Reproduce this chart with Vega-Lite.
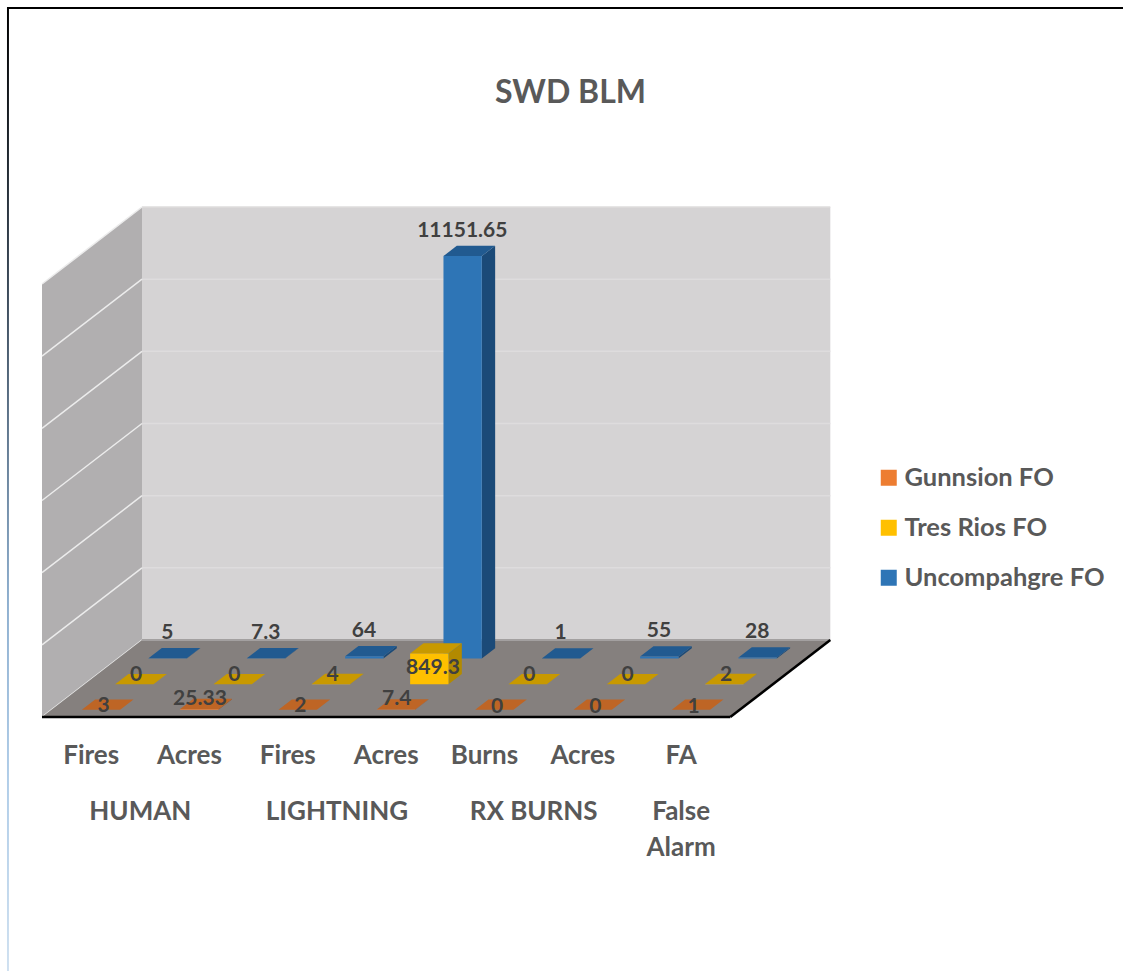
{
"$schema":"https://vega.github.io/schema/vega-lite/v6.json",
"width":1123,"height":971,"padding":0,"autosize":{"type":"none"},"background":"white",
"title":{"text":"SWD BLM","anchor":"middle","dx":9,"dy":114,"font":"Lato","fontSize":32,"fontWeight":"bold","color":"#595959"},
"config":{"axis":{"disable":true},"view":{"stroke":null},"text":{"font":"Lato","fontWeight":"bold"}},
"datasets":{"planes":[{"depth":0},{"depth":3}],"grid":[{"v":0},{"v":2000},{"v":4000},{"v":6000},{"v":8000},{"v":10000},{"v":12000}],"one":[{"frame":1}]},
"data":{"values":[
{"group":"HUMAN","measure":"Fires","series":"Uncompahgre FO","value":5},
{"group":"HUMAN","measure":"Acres","series":"Uncompahgre FO","value":7.3},
{"group":"LIGHTNING","measure":"Fires","series":"Uncompahgre FO","value":64},
{"group":"LIGHTNING","measure":"Acres","series":"Uncompahgre FO","value":11151.65},
{"group":"RX BURNS","measure":"Burns","series":"Uncompahgre FO","value":1},
{"group":"RX BURNS","measure":"Acres","series":"Uncompahgre FO","value":55},
{"group":"False Alarm","measure":"FA","series":"Uncompahgre FO","value":28},
{"group":"HUMAN","measure":"Fires","series":"Tres Rios FO","value":0},
{"group":"HUMAN","measure":"Acres","series":"Tres Rios FO","value":0},
{"group":"LIGHTNING","measure":"Fires","series":"Tres Rios FO","value":4},
{"group":"LIGHTNING","measure":"Acres","series":"Tres Rios FO","value":849.3},
{"group":"RX BURNS","measure":"Burns","series":"Tres Rios FO","value":0},
{"group":"RX BURNS","measure":"Acres","series":"Tres Rios FO","value":0},
{"group":"False Alarm","measure":"FA","series":"Tres Rios FO","value":2},
{"group":"HUMAN","measure":"Fires","series":"Gunnsion FO","value":3},
{"group":"HUMAN","measure":"Acres","series":"Gunnsion FO","value":25.33},
{"group":"LIGHTNING","measure":"Fires","series":"Gunnsion FO","value":2},
{"group":"LIGHTNING","measure":"Acres","series":"Gunnsion FO","value":7.4},
{"group":"RX BURNS","measure":"Burns","series":"Gunnsion FO","value":0},
{"group":"RX BURNS","measure":"Acres","series":"Gunnsion FO","value":0},
{"group":"False Alarm","measure":"FA","series":"Gunnsion FO","value":1}
]},
"transform":[
{"calculate":"indexof(['HUMAN|Fires','HUMAN|Acres','LIGHTNING|Fires','LIGHTNING|Acres','RX BURNS|Burns','RX BURNS|Acres','False Alarm|FA'],datum.group+'|'+datum.measure)","as":"i"},
{"calculate":"indexof(['Gunnsion FO','Tres Rios FO','Uncompahgre FO'],datum.series)","as":"s"},
{"calculate":"datum.s+0.28","as":"d"},
{"calculate":"datum.i+0.31+datum.d*0.339","as":"xl"},
{"calculate":"datum.xl+0.39","as":"xr"},
{"calculate":"datum.d*711","as":"yb"},
{"calculate":"datum.value+datum.yb","as":"yt"},
{"calculate":"[0,1]","as":"t"},
{"flatten":["t"]},
{"calculate":"datum.xr+datum.t*0.1356","as":"sx"},
{"calculate":"datum.xl+datum.t*0.1356","as":"tx"},
{"calculate":"datum.yt+datum.t*284.4","as":"sy"},
{"calculate":"datum.yb+datum.t*284.4","as":"sy2"},
{"calculate":"datum.xl+0.2628","as":"lx"},
{"calculate":"datum.yt+284.4","as":"ly"},
{"calculate":"datum.group+datum.measure+datum.series","as":"id"}
],
"resolve":{"scale":{"color":"independent"}},
"layer":[
{"data":{"name":"one"},"mark":{"type":"rect","color":{"gradient":"linear","x1":0,"y1":0,"x2":0,"y2":1,"stops":[{"offset":0,"color":"#000000"},{"offset":0.3,"color":"#3d4c5c"},{"offset":0.62,"color":"#8fb0d0"},{"offset":0.8,"color":"#b0cde8"},{"offset":1,"color":"#cfe0f0"}]}},
 "encoding":{"x":{"datum":-0.356,"type":"quantitative","scale":{"domain":[-0.4271,10.9936]}},"x2":{"datum":-0.336},"y":{"datum":19646,"type":"quantitative","scale":{"domain":[-7039,19870]}},"y2":{"datum":-7039}}},
{"data":{"name":"one"},"mark":{"type":"rule","color":"#000000","strokeWidth":2},
 "encoding":{"x":{"datum":-0.356,"type":"quantitative","scale":{"domain":[-0.4271,10.9936]}},"x2":{"datum":10.9936},"y":{"datum":19646,"type":"quantitative","scale":{"domain":[-7039,19870]}}}},
{"data":{"name":"planes"},"transform":[{"calculate":"datum.depth*0.339","as":"x"},{"calculate":"datum.depth*711","as":"y"},{"calculate":"datum.y+12000","as":"yTop"}],
 "mark":{"type":"area","orient":"vertical","color":"#B1AFB0"},
 "encoding":{"x":{"field":"x","type":"quantitative","scale":{"domain":[-0.4271,10.9936]}},"y":{"field":"yTop","type":"quantitative","stack":null,"scale":{"domain":[-7039,19870]}},"y2":{"field":"y"}}},
{"data":{"name":"one"},"mark":{"type":"rect","color":"#D5D3D4"},
 "encoding":{"x":{"datum":1.017,"type":"quantitative","scale":{"domain":[-0.4271,10.9936]}},"x2":{"datum":8.017},"y":{"datum":14133,"type":"quantitative","scale":{"domain":[-7039,19870]}},"y2":{"datum":2133}}},
{"data":{"name":"grid"},"transform":[{"filter":"datum.v>0"},{"calculate":"1.017","as":"x0"},{"calculate":"8.017","as":"x1"},{"calculate":"datum.v+2133","as":"y"}],
 "mark":{"type":"rule","color":"#DEDCDD","strokeWidth":1.5},
 "encoding":{"x":{"field":"x0","type":"quantitative","scale":{"domain":[-0.4271,10.9936]}},"x2":{"field":"x1"},"y":{"field":"y","type":"quantitative","scale":{"domain":[-7039,19870]}}}},
{"data":{"name":"grid"},"transform":[{"calculate":"0","as":"x0"},{"calculate":"1.017","as":"x1"},{"calculate":"datum.v+2133","as":"y1"}],
 "mark":{"type":"rule","color":"#ECECEC","strokeWidth":1.5},
 "encoding":{"x":{"field":"x0","type":"quantitative","scale":{"domain":[-0.4271,10.9936]}},"x2":{"field":"x1"},"y":{"field":"v","type":"quantitative","scale":{"domain":[-7039,19870]}},"y2":{"field":"y1"}}},
{"data":{"name":"planes"},"transform":[{"calculate":"datum.depth*0.339","as":"x"},{"calculate":"datum.x+7","as":"x2"},{"calculate":"datum.depth*711","as":"y"}],
 "mark":{"type":"area","orient":"horizontal","color":"#85807E"},
 "encoding":{"y":{"field":"y","type":"quantitative","scale":{"domain":[-7039,19870]}},"x":{"field":"x","type":"quantitative","stack":null,"scale":{"domain":[-0.4271,10.9936]}},"x2":{"field":"x2"}}},
{"data":{"name":"one"},"mark":{"type":"rule","color":"#A3A0A0","strokeWidth":2},
 "encoding":{"x":{"datum":1.017,"type":"quantitative","scale":{"domain":[-0.4271,10.9936]}},"x2":{"datum":8.017},"y":{"datum":2133,"type":"quantitative","scale":{"domain":[-7039,19870]}}}},
{"data":{"name":"one"},"mark":{"type":"rule","color":"#000000","strokeWidth":2.5},
 "encoding":{"x":{"datum":0,"type":"quantitative","scale":{"domain":[-0.4271,10.9936]}},"x2":{"datum":7},"y":{"datum":0,"type":"quantitative","scale":{"domain":[-7039,19870]}}}},
{"data":{"name":"one"},"mark":{"type":"rule","color":"#000000","strokeWidth":2.5},
 "encoding":{"x":{"datum":7,"type":"quantitative","scale":{"domain":[-0.4271,10.9936]}},"x2":{"datum":8.017},"y":{"datum":0,"type":"quantitative","scale":{"domain":[-7039,19870]}},"y2":{"datum":2133}}},

{"transform":[{"filter":"datum.s==2"}],"mark":{"type":"area","orient":"vertical"},
 "encoding":{"x":{"field":"sx","type":"quantitative","scale":{"domain":[-0.4271,10.9936]}},"y":{"field":"sy","type":"quantitative","stack":null,"scale":{"domain":[-7039,19870]}},"y2":{"field":"sy2"},"detail":{"field":"id"},
 "color":{"field":"series","legend":null,"scale":{"domain":["Gunnsion FO","Tres Rios FO","Uncompahgre FO"],"range":["#A5501E","#B38A00","#1B4A78"]}}}},
{"transform":[{"filter":"datum.s==2"},{"calculate":"datum.tx+0.39","as":"tx2"}],"mark":{"type":"area","orient":"horizontal"},
 "encoding":{"y":{"field":"sy","type":"quantitative","scale":{"domain":[-7039,19870]}},"x":{"field":"tx","type":"quantitative","stack":null,"scale":{"domain":[-0.4271,10.9936]}},"x2":{"field":"tx2"},"detail":{"field":"id"},
 "color":{"field":"series","legend":null,"scale":{"domain":["Gunnsion FO","Tres Rios FO","Uncompahgre FO"],"range":["#BE6525","#C89900","#215A90"]}}}},
{"transform":[{"filter":"datum.s==2&&datum.t==0"}],"mark":{"type":"rect"},
 "encoding":{"x":{"field":"xl","type":"quantitative","scale":{"domain":[-0.4271,10.9936]}},"x2":{"field":"xr"},"y":{"field":"yt","type":"quantitative","scale":{"domain":[-7039,19870]}},"y2":{"field":"yb"},
 "color":{"field":"series","legend":null,"scale":{"domain":["Gunnsion FO","Tres Rios FO","Uncompahgre FO"],"range":["#ED7D31","#FFC000","#2E75B6"]}}}},

{"transform":[{"filter":"datum.s<2"}],"mark":{"type":"area","orient":"vertical"},
 "encoding":{"x":{"field":"sx","type":"quantitative","scale":{"domain":[-0.4271,10.9936]}},"y":{"field":"sy","type":"quantitative","stack":null,"scale":{"domain":[-7039,19870]}},"y2":{"field":"sy2"},"detail":{"field":"id"},
 "color":{"field":"series","legend":null,"scale":{"domain":["Gunnsion FO","Tres Rios FO","Uncompahgre FO"],"range":["#A5501E","#B38A00","#1B4A78"]}}}},
{"transform":[{"filter":"datum.s<2"},{"calculate":"datum.tx+0.39","as":"tx2"}],"mark":{"type":"area","orient":"horizontal"},
 "encoding":{"y":{"field":"sy","type":"quantitative","scale":{"domain":[-7039,19870]}},"x":{"field":"tx","type":"quantitative","stack":null,"scale":{"domain":[-0.4271,10.9936]}},"x2":{"field":"tx2"},"detail":{"field":"id"},
 "color":{"field":"series","legend":null,"scale":{"domain":["Gunnsion FO","Tres Rios FO","Uncompahgre FO"],"range":["#BE6525","#C89900","#215A90"]}}}},
{"transform":[{"filter":"datum.s<2&&datum.t==0"}],"mark":{"type":"rect"},
 "encoding":{"x":{"field":"xl","type":"quantitative","scale":{"domain":[-0.4271,10.9936]}},"x2":{"field":"xr"},"y":{"field":"yt","type":"quantitative","scale":{"domain":[-7039,19870]}},"y2":{"field":"yb"},
 "color":{"field":"series","scale":{"domain":["Gunnsion FO","Tres Rios FO","Uncompahgre FO"],"range":["#ED7D31","#FFC000","#2E75B6"]},
 "legend":{"orient":"none","legendX":876,"legendY":465,"title":null,"padding":0,"symbolType":"square","symbolSize":256,"symbolStrokeWidth":0,"labelFont":"Lato","labelFontWeight":"bold","labelFontSize":25.5,"labelColor":"#595959","rowPadding":23,"labelOffset":3,"labelLimit":260}}}},

{"transform":[{"filter":"datum.s==2&&datum.t==0"}],"mark":{"type":"text","fontSize":21,"color":"#404040","dx":-7,"dy":-15},
 "encoding":{"x":{"field":"lx","type":"quantitative","scale":{"domain":[-0.4271,10.9936]}},"y":{"field":"ly","type":"quantitative","scale":{"domain":[-7039,19870]}},"text":{"field":"value"}}},
{"transform":[{"filter":"datum.s==1&&datum.t==0&&datum.value<500"}],"mark":{"type":"text","fontSize":21,"color":"#404040","dx":-5,"dy":1},
 "encoding":{"x":{"field":"lx","type":"quantitative","scale":{"domain":[-0.4271,10.9936]}},"y":{"field":"ly","type":"quantitative","scale":{"domain":[-7039,19870]}},"text":{"field":"value"}}},
{"transform":[{"filter":"datum.s==1&&datum.t==0&&datum.value>=500"}],"mark":{"type":"text","fontSize":21,"color":"#404040","dx":-3,"dy":25},
 "encoding":{"x":{"field":"lx","type":"quantitative","scale":{"domain":[-0.4271,10.9936]}},"y":{"field":"ly","type":"quantitative","scale":{"domain":[-7039,19870]}},"text":{"field":"value"}}},
{"transform":[{"filter":"datum.s==0&&datum.t==0&&datum.value%1==0"}],"mark":{"type":"text","fontSize":21,"color":"#404040","dx":-4,"dy":7},
 "encoding":{"x":{"field":"lx","type":"quantitative","scale":{"domain":[-0.4271,10.9936]}},"y":{"field":"ly","type":"quantitative","scale":{"domain":[-7039,19870]}},"text":{"field":"value"}}},
{"transform":[{"filter":"datum.s==0&&datum.t==0&&datum.value%1!=0"}],"mark":{"type":"text","fontSize":21,"color":"#404040","dx":-6,"dy":0},
 "encoding":{"x":{"field":"lx","type":"quantitative","scale":{"domain":[-0.4271,10.9936]}},"y":{"field":"ly","type":"quantitative","scale":{"domain":[-7039,19870]}},"text":{"field":"value"}}},

{"transform":[{"filter":"datum.s==0&&datum.t==0"},{"calculate":"datum.i+0.5","as":"cx"}],"mark":{"type":"text","fontSize":26,"color":"#595959"},
 "encoding":{"x":{"field":"cx","type":"quantitative","scale":{"domain":[-0.4271,10.9936]}},"y":{"datum":-1080,"type":"quantitative","scale":{"domain":[-7039,19870]}},"text":{"field":"measure"}}},
{"transform":[{"filter":"datum.s==0&&datum.t==0"},{"aggregate":[{"op":"mean","field":"i","as":"m"}],"groupby":["group"]},{"calculate":"datum.m+0.5","as":"cx"},{"calculate":"replace(datum.group,'False Alarm','False\\nAlarm')","as":"txt"}],
 "mark":{"type":"text","fontSize":26,"color":"#595959","baseline":"top","lineBreak":"\n","lineHeight":36},
 "encoding":{"x":{"field":"cx","type":"quantitative","scale":{"domain":[-0.4271,10.9936]}},"y":{"datum":-2270,"type":"quantitative","scale":{"domain":[-7039,19870]}},"text":{"field":"txt"}}}
]
}
